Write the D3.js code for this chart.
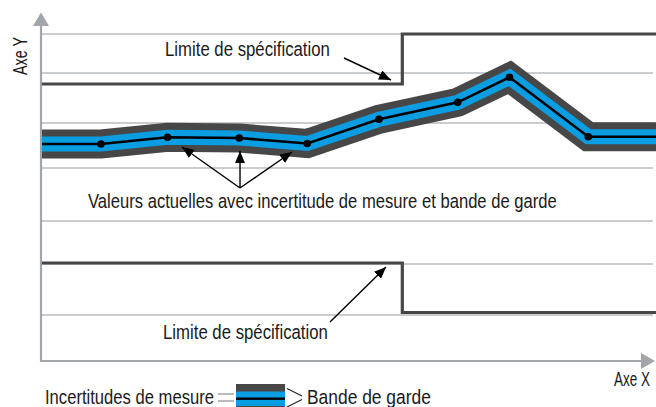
<!DOCTYPE html>
<html>
<head>
<meta charset="utf-8">
<script src="https://cdn.jsdelivr.net/npm/d3@7"></script>
<style>
  html, body { margin: 0; padding: 0; background: #fff; }
  svg text { font-family: "Liberation Sans Narrow", "Arial Narrow", "Liberation Sans", Arial, sans-serif; fill: #1a1a1a; }
</style>
</head>
<body>
<svg id="chart" width="656" height="407"></svg>
<script>
// ---- data (arbitrary units 0..100) ----
const pointX = [9.76, 20.57, 32.24, 43.30, 54.96, 67.76, 76.18, 88.99];
const pointY = [66.36, 68.41, 68.20, 66.51, 73.91, 79.11, 86.76, 68.59];
const bandStartX = 0, bandEndX = 100;
const gridY = [100, 88.07, 72.78, 59.02, 42.81, 29.66, 14.07];
const specStepX = 58.75;
const upperSpec = [84.71, 100];   // before step, after step
const lowerSpec = [29.97, 14.83]; // before step, after step

const labels = {
  axisX: "Axe X",
  axisY: "Axe Y",
  spec: "Limite de spécification",
  values: "Valeurs actuelles avec incertitude de mesure et bande de garde",
  uncertainty: "Incertitudes de mesure",
  guard: "Bande de garde"
};
// annotation arrows: [fromX, fromY, toX, toY] in data units
const arrows = [
  [49.27, 92.66, 56.91, 85.93],
  [32.36, 52.91, 22.93, 65.44],
  [32.36, 52.91, 32.36, 64.22],
  [32.36, 52.91, 40.81, 63.91],
  [46.99, 11.93, 56.10, 28.75]
];

// ---- chart ----
const svg = d3.select("#chart");
const x = d3.scaleLinear().domain([0, 100]).range([41, 656]);
const y = d3.scaleLinear().domain([0, 100]).range([361, 34]);

const gridCol = "#b9bcbf", axisCol = "#a2a5a9", dark = "#474747", blue = "#0a9de2";

// gridlines
svg.append("g").selectAll("line").data(gridY).join("line")
  .attr("x1", x(0.16)).attr("x2", x(99.5))
  .attr("y1", d => y(d)).attr("y2", d => y(d))
  .attr("stroke", gridCol).attr("stroke-width", 1.6);

// axes
svg.append("line").attr("x1", x(0)).attr("x2", x(0)).attr("y1", y(0) + 1).attr("y2", 24)
  .attr("stroke", axisCol).attr("stroke-width", 2.2);
svg.append("path").attr("d", `M${x(0)},12.5 L${x(0) - 8},26 L${x(0) + 8},26 Z`).attr("fill", axisCol);
svg.append("line").attr("x1", x(0) - 1).attr("x2", 642).attr("y1", y(0)).attr("y2", y(0))
  .attr("stroke", axisCol).attr("stroke-width", 2.2);
svg.append("path").attr("d", `M655,${y(0)} L641,${y(0) - 8} L641,${y(0) + 8} Z`).attr("fill", axisCol);

// spec limits
const stepLine = d3.line().x(d => x(d[0])).y(d => y(d[1]));
[upperSpec, lowerSpec].forEach(s => {
  svg.append("path")
    .attr("d", stepLine([[0.16, s[0]], [specStepX, s[0]], [specStepX, s[1]], [100, s[1]]]))
    .attr("fill", "none").attr("stroke", dark).attr("stroke-width", 3.2)
    .attr("stroke-linejoin", "miter");
});

// band
const bandPts = [[bandStartX, pointY[0]]].concat(pointX.map((d, i) => [d, pointY[i]])).concat([[bandEndX, pointY[pointY.length - 1]]]);
const line = d3.line().x(d => x(d[0])).y(d => y(d[1]));
svg.append("clipPath").attr("id", "plotclip").append("rect")
  .attr("x", x(0) + 1).attr("y", 0).attr("width", 656).attr("height", 407);
const bandG = svg.append("g").attr("clip-path", "url(#plotclip)");
[[dark, 29], [blue, 15], ["#000", 2.6]].forEach(([c, w]) => {
  bandG.append("path").attr("d", line(bandPts)).attr("fill", "none")
    .attr("stroke", c).attr("stroke-width", w)
    .attr("stroke-linejoin", "miter").attr("stroke-miterlimit", 10);
});
svg.append("g").selectAll("circle").data(pointX).join("circle")
  .attr("cx", d => x(d)).attr("cy", (d, i) => y(pointY[i])).attr("r", 3.8).attr("fill", "#000");

// arrows
const defs = svg.append("defs");
defs.append("marker").attr("id", "ah").attr("markerUnits", "userSpaceOnUse")
  .attr("viewBox", "0 0 12 10").attr("refX", 12).attr("refY", 5)
  .attr("markerWidth", 12).attr("markerHeight", 10).attr("orient", "auto")
  .append("path").attr("d", "M0,0 L12,5 L0,10 Z").attr("fill", "#000");
svg.append("g").selectAll("line").data(arrows).join("line")
  .attr("x1", d => x(d[0])).attr("y1", d => y(d[1]))
  .attr("x2", d => x(d[2])).attr("y2", d => y(d[3]))
  .attr("stroke", "#000").attr("stroke-width", 1.4).attr("marker-end", "url(#ah)");

// texts (condensed face emulated by horizontal scaling)
const fs = 19.5;
function txt(xp, yp, s, len, rot) {
  const t = svg.append("text").attr("font-size", fs).text(s);
  const w = t.node().getComputedTextLength();
  const sx = len / w;
  t.attr("transform", `translate(${xp},${yp})${rot ? " rotate(-90)" : ""} scale(${sx},1)`);
  return t;
}
txt(165, 56, labels.spec, 165);
txt(163, 339, labels.spec, 165);
txt(88, 208, labels.values, 469);
txt(614, 386, labels.axisX, 36);
txt(27, 75, labels.axisY, 38, true);

// legend
txt(45, 404, labels.uncertainty, 169);
svg.append("rect").attr("x", 236).attr("y", 384).attr("width", 49).attr("height", 29).attr("fill", dark);
svg.append("rect").attr("x", 236).attr("y", 391.5).attr("width", 49).attr("height", 14.5).attr("fill", blue);
svg.append("rect").attr("x", 236).attr("y", 397.5).attr("width", 49).attr("height", 2.4).attr("fill", "#000");
[394, 401].forEach(v => svg.append("line").attr("x1", 218).attr("x2", 234).attr("y1", v).attr("y2", v)
  .attr("stroke", "#8a8d90").attr("stroke-width", 1.2));
svg.append("line").attr("x1", 287).attr("y1", 388.5).attr("x2", 302).attr("y2", 396).attr("stroke", "#222").attr("stroke-width", 1.1);
svg.append("line").attr("x1", 302).attr("y1", 399.5).attr("x2", 287).attr("y2", 407).attr("stroke", "#222").attr("stroke-width", 1.1);
txt(307, 404, labels.guard, 124);
</script>
</body>
</html>
